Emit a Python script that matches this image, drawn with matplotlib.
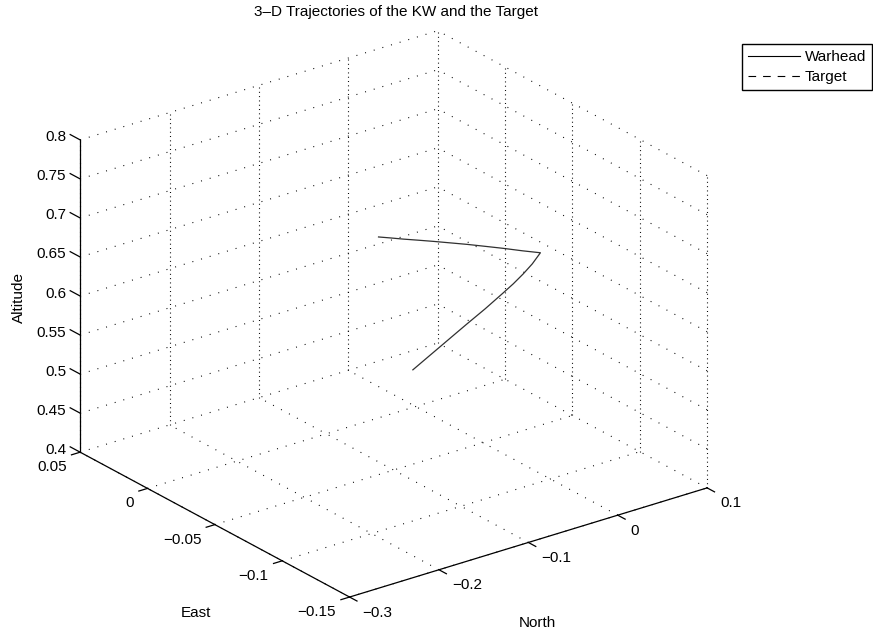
"""3-D trajectory of the KW (kill warhead) and the target, MATLAB style."""

import matplotlib
matplotlib.use("Agg")
import matplotlib.pyplot as plt
import numpy as np
from matplotlib.lines import Line2D
from mpl_toolkits.mplot3d import proj3d

# warhead path
north = [-0.1689, -0.1441, -0.1205, -0.0957, -0.0721, -0.0429, -0.0147, 0.0067, 0.0270, 0.0461, 0.0642,
         0.0585, 0.0517, 0.0461, 0.0404, 0.0359, 0.0314, 0.0291, 0.0268, 0.0268, 0.0278]
east = [-0.110, -0.104, -0.098, -0.092, -0.086, -0.080, -0.074, -0.068, -0.062, -0.056, -0.050,
        -0.0404, -0.0308, -0.0212, -0.0116, -0.0020, 0.0076, 0.0172, 0.0268, 0.0364, 0.0460]
altitude = [0.6081, 0.6092, 0.6095, 0.6106, 0.6109, 0.6143, 0.6182, 0.6179, 0.6181, 0.6186, 0.6209,
            0.6165, 0.6131, 0.6087, 0.6043, 0.5989, 0.5935, 0.5869, 0.5802, 0.5728, 0.5648]

north_ticks = [-0.3, -0.2, -0.1, 0.0, 0.1]
north_labels = ["\u22120.3", "\u22120.2", "\u22120.1", "0", "0.1"]
east_ticks = [-0.15, -0.1, -0.05, 0.0, 0.05]
east_labels = ["\u22120.15", "\u22120.1", "\u22120.05", "0", "0.05"]
alt_ticks = [0.4, 0.45, 0.5, 0.55, 0.6, 0.65, 0.7, 0.75, 0.8]
alt_labels = ["0.4", "0.45", "0.5", "0.55", "0.6", "0.65", "0.7", "0.75", "0.8"]

W, H = 873, 633
x0, x1 = -0.3, 0.1      # North
y0, y1 = -0.15, 0.05    # East
z0, z1 = 0.4, 0.8       # Altitude

plt.rcParams["font.family"] = ["Liberation Sans", "DejaVu Sans"]
plt.rcParams["font.size"] = 11
plt.rcParams["lines.scale_dashes"] = False

fig = plt.figure(figsize=(W / 100, H / 100), dpi=100)
ax = fig.add_axes([0.05, 0.05, 0.8, 0.9], projection="3d", proj_type="ortho")
ax.view_init(elev=23.9, azim=-127)
ax.set_box_aspect((1, 1, 0.763))
ax.set_axis_off()
ax.computed_zorder = False


def dotted(xs, ys, zs, gap):
    ax.plot(xs, ys, zs, color="black", linewidth=0.8, dashes=(0.7, gap), zorder=1)


def solid(xs, ys, zs):
    ax.plot(xs, ys, zs, color="black", linewidth=0.9, zorder=2)


# MATLAB-like grid on the floor and the two back walls
for t in north_ticks:
    dotted([t, t], [y0, y1], [z0, z0], 5.8)
    dotted([t, t], [y1, y1], [z0, z1], 2.4)
for t in east_ticks:
    dotted([x0, x1], [t, t], [z0, z0], 5.8)
    if t != y1:
        dotted([x1, x1], [t, t], [z0, z1], 2.4)
for t in alt_ticks[1:]:
    dotted([x0, x1], [y1, y1], [t, t], 5.8)
    dotted([x1, x1], [y0, y1], [t, t], 5.8)

# axis lines and ticks
solid([x0, x0], [y0, y1], [z0, z0])
solid([x0, x1], [y0, y0], [z0, z0])
solid([x0, x0], [y1, y1], [z0, z1])
for t in east_ticks:
    solid([x0 - 0.0097, x0], [t, t], [z0, z0])
for t in north_ticks:
    solid([t, t], [y0 - 0.0055, y0], [z0, z0])
for t in alt_ticks:
    solid([x0, x0], [y1 + 0.0074, y1], [t, t])

ax.plot(north, east, altitude, color="#303030", linewidth=0.9, zorder=5)

ax.set_xlim(x0, x1)
ax.set_ylim(y0, y1)
ax.set_zlim(z0, z1)

# fit the box onto the reference corners (front, left, right, left-top)
corners_3d = np.array([[x0, y0, z0], [x0, y1, z0], [x1, y0, z0], [x0, y1, z1]])
corners_px = np.array([[350, 597], [80, 452], [707, 488], [80, 140]])
fig.canvas.draw()
px, py, _ = proj3d.proj_transform(*corners_3d.T, ax.get_proj())
frac = ax.transAxes.inverted().transform(ax.transData.transform(np.column_stack([px, py])))
rows, rhs = [], []
for (fx, fy), (tx, ty) in zip(frac, corners_px):
    rows.append([1, 0, fx]); rhs.append(tx)
    rows.append([0, 1, fy]); rhs.append(H - ty)
ox, oy, s = np.linalg.lstsq(np.array(rows, float), np.array(rhs, float), rcond=None)[0]
ax.set_position([ox / W, oy / H, s / W, s / H])


def tick_label(x, y, z, text, ha):
    """Put a flat tick label at the projected spot of a 3-D point."""
    lx, ly, _ = proj3d.proj_transform([x], [y], [z], ax.get_proj())
    ax.text2D(lx[0], ly[0], text, transform=ax.transData, ha=ha, va="center")


for t, lab in zip(east_ticks, east_labels):
    tick_label(x0 - 0.0151, t, z0 - 0.0140, lab, "right")
for t, lab in zip(north_ticks, north_labels):
    tick_label(t, y0 - 0.0096, z0 - 0.0109, lab, "left")
for t, lab in zip(alt_ticks, alt_labels):
    tick_label(x0 - 0.0157, y1, t + 0.0087, lab, "right")

fig.text(396 / W, 1 - 12 / H, "3\u2013D Trajectories of the KW and the Target",
         ha="center", va="center")
fig.text(537 / W, 1 - 623 / H, "North", ha="center", va="center")
fig.text(196 / W, 1 - 613 / H, "East", ha="center", va="center")
fig.text(19 / W, 1 - 297 / H, "Altitude", ha="center", va="center", rotation=90)

handles = [Line2D([], [], color="black", linewidth=0.8, label="Warhead"),
           Line2D([], [], color="black", linewidth=0.8, dashes=(5.5, 5), label="Target")]
fig.legend(handles=handles, loc="upper left", bbox_to_anchor=(742 / W, 1 - 44 / H),
           borderaxespad=0, fancybox=False, edgecolor="black", framealpha=1,
           handlelength=3.4, handletextpad=0.3, labelspacing=0.38, borderpad=0.4)

fig.savefig("out.png", dpi=100)
